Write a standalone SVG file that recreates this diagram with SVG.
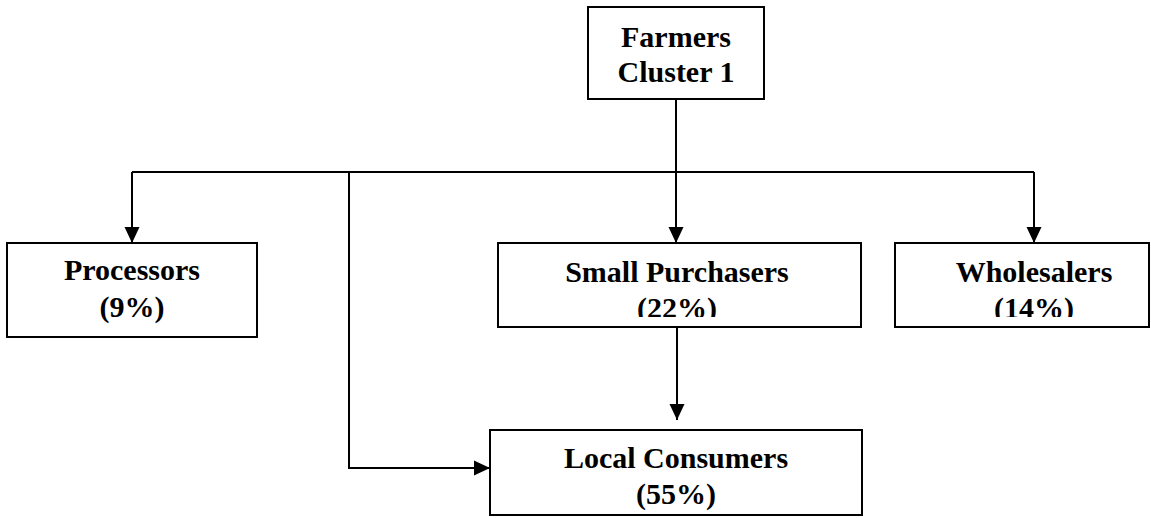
<svg xmlns="http://www.w3.org/2000/svg" width="1151" height="518" viewBox="0 0 1151 518">
<style>
.box{fill:#fff;stroke:#000;stroke-width:2}
.t{font-family:'Liberation Serif','Times New Roman',serif;font-weight:700;font-size:30px;text-anchor:middle;fill:#000}
.c{fill:none;stroke:#000;stroke-width:2}
</style>
<defs>
<marker id="ah2" markerWidth="16" markerHeight="16" refX="16" refY="8" orient="auto" markerUnits="userSpaceOnUse" viewBox="0 0 16 16">
<path d="M0,0.5 L16,8 L0,15.5 Z" fill="#000"/>
</marker>
<clipPath id="clipSP"><rect x="498" y="243" width="363" height="74"/></clipPath>
<clipPath id="clipW"><rect x="895" y="243" width="256" height="74"/></clipPath>
</defs>
<g id="connectors">
<path class="c" d="M676,99 V172"/>
<path class="c" d="M132,172 H1034"/>
<path class="c" d="M132,172 V243" marker-end="url(#ah2)"/>
<path class="c" d="M676,172 V243" marker-end="url(#ah2)"/>
<path class="c" d="M1034,172 V243" marker-end="url(#ah2)"/>
<path class="c" d="M677,327 V420" marker-end="url(#ah2)"/>
<path class="c" d="M349,172 V468 H490" marker-end="url(#ah2)"/>
</g>
<g id="farmers">
<rect class="box" x="588" y="7" width="176" height="92"/>
<text class="t" x="676" y="47">Farmers</text>
<text class="t" x="676" y="82">Cluster 1</text>
</g>
<g id="processors">
<rect class="box" x="7" y="243" width="250" height="94"/>
<text class="t" x="132" y="280">Processors</text>
<text class="t" x="132" y="317">(9%)</text>
</g>
<g id="small-purchasers">
<rect class="box" x="498" y="243" width="363" height="84"/>
<text class="t" x="677" y="282">Small Purchasers</text>
<text class="t" x="677" y="318" clip-path="url(#clipSP)">(22%)</text>
</g>
<g id="wholesalers">
<rect class="box" x="895" y="243" width="254" height="84"/>
<text class="t" x="1034" y="282">Wholesalers</text>
<text class="t" x="1034" y="318" clip-path="url(#clipW)">(14%)</text>
</g>
<g id="local-consumers">
<rect class="box" x="490" y="430" width="372" height="85"/>
<text class="t" x="676" y="468">Local Consumers</text>
<text class="t" x="676" y="504">(55%)</text>
</g>
</svg>
